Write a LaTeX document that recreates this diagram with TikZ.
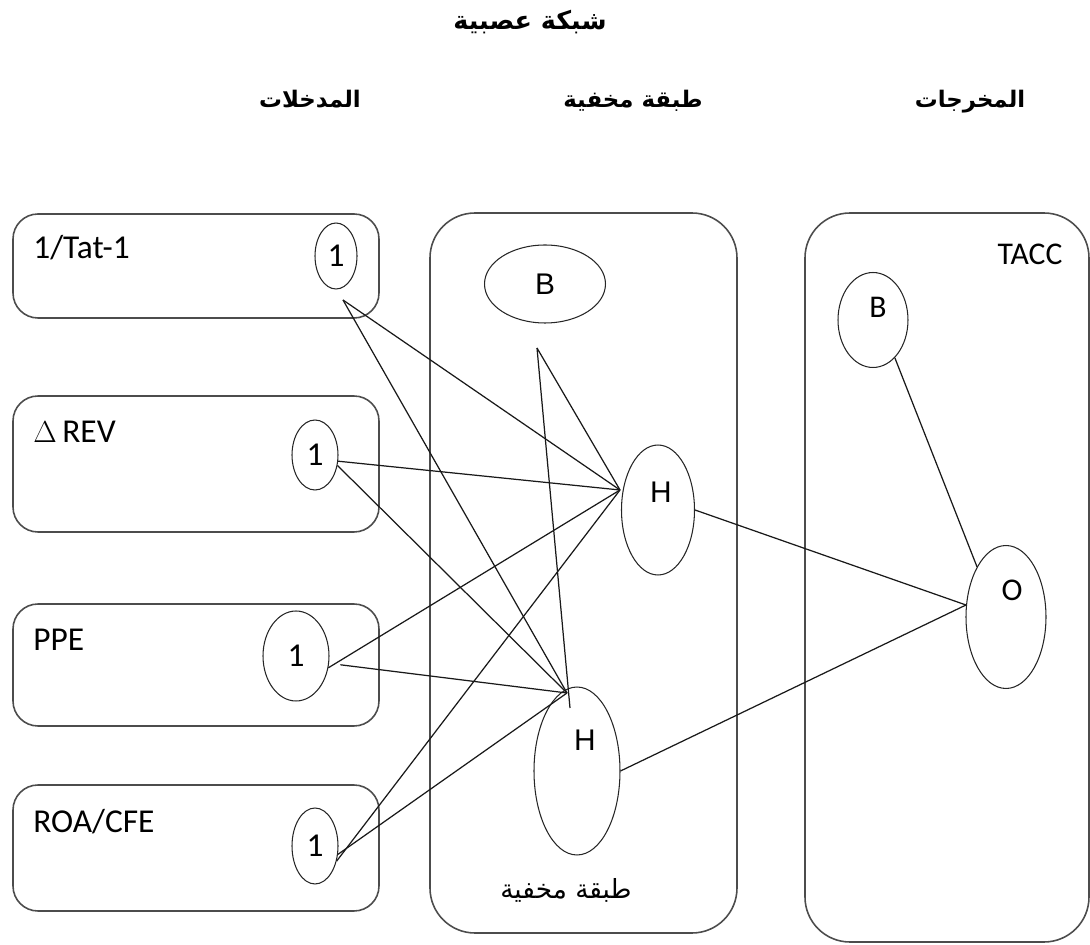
\documentclass[tikz,border=0pt]{standalone}
\usepackage{fontspec}
\setmainfont{Carlito}
\newfontfamily\arabicfont[Script=Arabic]{DejaVu Sans}
\newfontfamily\arialfont{Liberation Sans}
\TeXXeTstate=1
\usetikzlibrary{shapes.geometric}

\begin{document}
\begin{tikzpicture}[x=0.02cm,y=-0.02cm]
\tikzstyle{every node}+=[inner sep=0pt]
\tikzstyle{layer}=[draw=black!70,line width=0.9pt,rounded corners=0.5cm]
\tikzstyle{unit}=[draw=black!85,line width=0.6pt,ellipse]
\tikzstyle{head}=[font=\arabicfont\bfseries\fontsize{13}{15}\selectfont]
\tikzstyle{inlabel}=[anchor=west,font=\fontsize{19}{22}\selectfont]
\tikzstyle{one}=[font=\fontsize{19}{22}\selectfont]
\tikzstyle{sym}=[font=\arialfont\fontsize{17}{20}\selectfont]
\tikzstyle{osym}=[font=\fontsize{18}{21}\selectfont]
\tikzstyle{link}=[black!90,line width=0.7pt]
\useasboundingbox (0,0) rectangle (1090,945);
% titles
\node[head,font=\arabicfont\bfseries\fontsize{14.5}{17}\selectfont] (title) at (530,22) {\beginR شبكة عصبية\endR};
\node[head,anchor=base] (tin) at (310,108) {\beginR المدخلات\endR};
\node[head,anchor=base] (thid) at (633,108) {\beginR طبقة مخفية\endR};
\node[head,anchor=base] (tout) at (970,108) {\beginR المخرجات\endR};
% input boxes
\draw[layer] (13,214) rectangle (379,318);
\draw[layer] (13,396) rectangle (379,532);
\draw[layer] (13,604) rectangle (379,726);
\draw[layer] (13,785) rectangle (379,911);
\node[inlabel] (l1) at (33,248) {1/Tat-1};
\node[inlabel] (l2) at (33,432) {$\Delta$\,REV};
\node[inlabel] (l3) at (33,640) {PPE};
\node[inlabel] (l4) at (33,822) {ROA/CFE};
\node[unit,one,minimum width=0.84cm,minimum height=1.32cm] (e1) at (336,256) {1};
\node[unit,one,minimum width=0.92cm,minimum height=1.4cm] (e2) at (315,455) {1};
\node[unit,one,minimum width=1.32cm,minimum height=1.8cm] (e3) at (296,656) {1};
\node[unit,one,minimum width=0.92cm,minimum height=1.52cm] (e4) at (315,846) {1};
% hidden layer
\draw[layer,rounded corners=0.9cm] (430,213) rectangle (737,933);
\node[unit,sym,minimum width=2.42cm,minimum height=1.56cm] (hb) at (545,284) {B};
\node[unit,minimum width=1.46cm,minimum height=2.6cm,label={[sym,yshift=0.36cm,xshift=0.06cm]center:H}] (h1) at (658,510) {};
\node[unit,minimum width=1.72cm,minimum height=3.36cm,label={[sym,yshift=0.62cm,xshift=0.16cm]center:H}] (h2) at (577,771) {};
\node[font=\arabicfont\fontsize{15}{17}\selectfont] (tbot) at (566,890) {\beginR طبقة مخفية\endR};
% output layer
\draw[layer,rounded corners=0.9cm] (805,213) rectangle (1089,942);
\node[osym] (tacc) at (1030,254) {TACC};
\node[unit,minimum width=1.4cm,minimum height=1.9cm,label={[osym,yshift=0.26cm,xshift=0.1cm]center:B}] (ob) at (873,320) {};
\node[unit,minimum width=1.6cm,minimum height=2.86cm,label={[osym,yshift=0.54cm,xshift=0.12cm]center:O}] (o) at (1006,617) {};
% free ends of the links
\coordinate (e1out) at (343,300);
\coordinate (hbout) at (537,348);
\coordinate (h1in) at (620,490);
\coordinate (h2in) at (567,693);
\coordinate (h2inb) at (570,708);
\coordinate (oin) at (966,605);
% links
\draw[link] (e1out) -- (h1in);
\draw[link] (e1out) -- (h2in);
\draw[link] (e2.-15) -- (h1in);
\draw[link] (e2.-25) -- (h2in);
\draw[link] (e3.-20) -- (h1in);
\draw[link] (e3.-20) ++(12,-3) -- (h2in);
\draw[link] (e4.-35) -- (h1in);
\draw[link] (e4.-20) -- (h2in);
\draw[link] (hbout) -- (h1in);
\draw[link] (hbout) -- (h2inb);
\draw[link] (h1.east) -- (oin);
\draw[link] (h2.east) -- (oin);
\draw[link] (ob.-60) -- (o.120);
\end{tikzpicture}
\end{document}
